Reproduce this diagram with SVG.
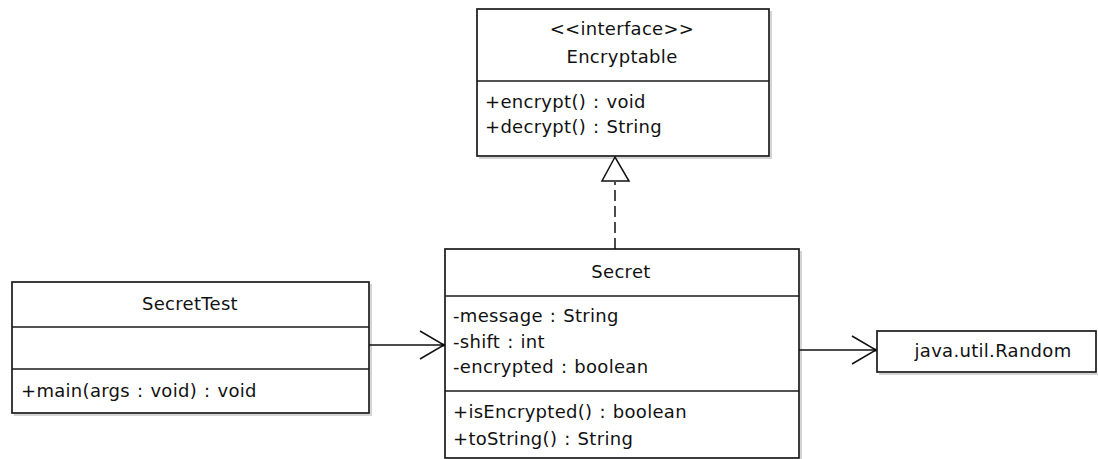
<svg xmlns="http://www.w3.org/2000/svg" width="1098" height="459" viewBox="0 0 1098 459">
  <defs>
    <style>
      .box { fill: #ffffff; stroke: #1a1a1a; stroke-width: 1.7; }
      .shadow { fill: none; stroke: #d4d4d4; stroke-width: 2; }
      .div { stroke: #1a1a1a; stroke-width: 1.7; }
      .t { font-family: "DejaVu Sans", "Liberation Sans", sans-serif; font-size: 18px; letter-spacing: 0.3px; word-spacing: 1px; fill: #111111; }
      .c { text-anchor: middle; }
      .edge { fill: none; stroke: #111111; stroke-width: 1.5; }
      .dash { stroke-dasharray: 11 5; }
    </style>
    <marker id="open" markerUnits="userSpaceOnUse" viewBox="0 0 26 30" refX="25" refY="15" markerWidth="26" markerHeight="30" orient="auto">
      <path d="M1,1 L25,15 L1,29" fill="none" stroke="#111111" stroke-width="1.5"/>
      <circle cx="24" cy="15" r="1.6" fill="#000000"/>
    </marker>
  </defs>
  <rect width="1098" height="459" fill="#ffffff"/>

  <!-- Encryptable interface -->
  <g id="encryptable">
    <path class="shadow" d="M771,11 V158 H479"/>
    <rect class="box" x="477" y="9" width="292" height="147"/>
    <line class="div" x1="477" y1="81" x2="769" y2="81"/>
    <text class="t c" x="622" y="35">&lt;&lt;interface&gt;&gt;</text>
    <text class="t c" x="622" y="63">Encryptable</text>
    <text class="t" x="485" y="108">+encrypt() : void</text>
    <text class="t" x="485" y="133">+decrypt() : String</text>
  </g>

  <!-- Secret class -->
  <g id="secret">
    <path class="shadow" d="M801,251 V460"/>
    <rect class="box" x="445" y="249" width="354" height="209"/>
    <line class="div" x1="445" y1="296" x2="799" y2="296"/>
    <line class="div" x1="445" y1="391" x2="799" y2="391"/>
    <text class="t c" x="621" y="278">Secret</text>
    <text class="t" x="453" y="322">-message : String</text>
    <text class="t" x="453" y="348">-shift : int</text>
    <text class="t" x="453" y="373">-encrypted : boolean</text>
    <text class="t" x="453" y="418">+isEncrypted() : boolean</text>
    <text class="t" x="453" y="445">+toString() : String</text>
  </g>

  <!-- SecretTest class -->
  <g id="secrettest">
    <path class="shadow" d="M371,284 V415 H14"/>
    <rect class="box" x="12" y="282" width="357" height="131"/>
    <line class="div" x1="12" y1="327" x2="369" y2="327"/>
    <line class="div" x1="12" y1="369" x2="369" y2="369"/>
    <text class="t c" x="190" y="310">SecretTest</text>
    <text class="t" x="21" y="397">+main(args : void) : void</text>
  </g>

  <!-- java.util.Random -->
  <g id="random">
    <path class="shadow" d="M879,374 H1098"/>
    <rect class="box" x="877" y="331" width="219" height="41"/>
    <text class="t c" x="993" y="357">java.util.Random</text>
  </g>

  <!-- connectors -->
  <g id="connectors">
    <line class="edge dash" x1="615" y1="249" x2="615" y2="182"/>
    <path class="edge" d="M615,157 L602,181 L629,181 Z" fill="#ffffff"/>
    <line class="edge" x1="369" y1="345" x2="444" y2="345" marker-end="url(#open)"/>
    <line class="edge" x1="799" y1="350" x2="876" y2="350" marker-end="url(#open)"/>
  </g>
</svg>
